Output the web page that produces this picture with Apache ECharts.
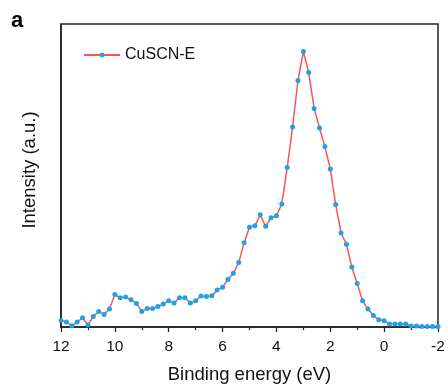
<!DOCTYPE html>
<html>
<head>
<meta charset="utf-8">
<script src="https://cdn.jsdelivr.net/npm/echarts@6/dist/echarts.min.js"></script>
<style>
html,body{margin:0;padding:0;background:#fff;}
#c{width:448px;height:389px;}
</style>
</head>
<body>
<div id="c"></div>
<script>
// Binding energy (eV), step 0.2 from 12 down to -2
var energies = [];
for (var k = 0; k <= 70; k++) { energies.push(+(12 - k * 0.2).toFixed(1)); }
// Intensity (a.u.)
var intensity = [
  6.6, 5.0, 1.3, 5.0, 9.3, 2.0, 10.6, 15.6, 12.6, 18.0,
  32.6, 29.3, 30.0, 27.3, 23.6, 15.6, 18.6, 18.6, 20.6, 23.0,
  26.3, 24.0, 29.3, 29.3, 24.0, 26.3, 31.0, 30.6, 31.3, 37.0,
  40.0, 47.6, 54.0, 64.6, 84.6, 100.0, 101.6, 112.6, 101.0, 109.6,
  111.6, 123.3, 160.0, 200.6, 247.3, 276.3, 255.3, 219.3, 199.6, 181.0,
  158.6, 123.0, 94.3, 83.0, 60.3, 43.6, 26.3, 18.0, 11.6, 7.3,
  6.3, 3.0, 3.0, 3.0, 3.0, 1.0, 1.0, 0.6, 0.6, 0.6,
  0.6
];
var seriesName = 'CuSCN-E';
var xTickLabels = ['12', '10', '8', '6', '4', '2', '0', '-2'];

var data = energies.map(function (e, i) { return [e, intensity[i]]; });
var font = 'Liberation Sans, Arial, sans-serif';

var chart = echarts.init(document.getElementById('c'), null, {renderer: 'canvas'});
chart.setOption({
  animation: false,
  backgroundColor: '#fff',
  graphic: [{
    type: 'text', left: 11, top: 10,
    style: {text: 'a', fontSize: 22, fontWeight: 'bold', fontFamily: font, fill: '#000'}
  }],
  grid: {
    left: 61, right: 10, top: 24, bottom: 61,
    show: true, borderColor: '#222', borderWidth: 1.5, backgroundColor: 'transparent'
  },
  legend: {
    data: [seriesName],
    left: 83, top: 47, padding: 0,
    itemWidth: 36, itemHeight: 6,
    itemGap: 5,
    textStyle: {fontSize: 16, fontFamily: font, color: '#111'}
  },
  xAxis: {
    type: 'value', inverse: true, min: -2, max: 12, interval: 2,
    name: 'Binding energy (eV)', nameLocation: 'middle', nameGap: 38,
    nameTextStyle: {fontSize: 18.5, fontFamily: font, color: '#111'},
    axisLine: {show: true, onZero: false, lineStyle: {color: '#222', width: 1.5}},
    axisTick: {show: true, inside: false, length: 5, lineStyle: {color: '#222', width: 1.3}},
    minorTick: {show: true, splitNumber: 2, length: 3, lineStyle: {color: '#222', width: 1.2}},
    splitLine: {show: false},
    axisLabel: {
      fontSize: 15.5, fontFamily: font, color: '#111', margin: 12,
      formatter: function (v) {
        var idx = Math.round((12 - v) / 2);
        return xTickLabels[idx] !== undefined ? xTickLabels[idx] : '';
      }
    }
  },
  yAxis: {
    type: 'value', min: 0, max: 304,
    name: 'Intensity (a.u.)', nameLocation: 'middle', nameGap: 22,
    nameTextStyle: {fontSize: 18.5, fontFamily: font, color: '#111', padding: [0, 0, 0, 11]},
    axisLine: {show: true, onZero: false, lineStyle: {color: '#222', width: 1.5}},
    axisTick: {show: false},
    axisLabel: {show: false},
    splitLine: {show: false}
  },
  series: [{
    name: seriesName,
    type: 'line',
    data: data,
    symbol: 'circle',
    symbolSize: 5,
    lineStyle: {color: '#ff5252', width: 1.5},
    itemStyle: {color: '#1ea2e6', borderWidth: 0},
    showAllSymbol: true
  }]
});
</script>
</body>
</html>
